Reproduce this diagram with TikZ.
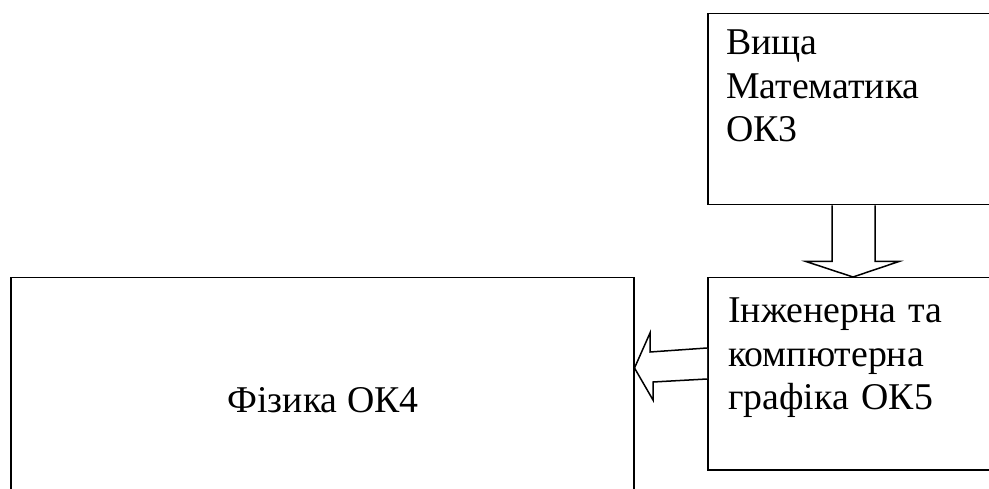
\documentclass[tikz,border=0pt]{standalone}
\usepackage{fontspec}
\setmainfont{Liberation Serif}
\usetikzlibrary{calc}

\begin{document}
\begin{tikzpicture}[x=1pt, y=-1pt,
    box/.style={draw, line width=1.5, inner sep=0, anchor=north west},
    blockarrow/.style={draw, line width=1.5, fill=white, line join=miter},
    lbl/.style={inner sep=0, font=\fontsize{37.8}{43.5}\selectfont, text width=260, align=left, anchor=base west}]

\useasboundingbox (0,0) rectangle (989,489);
\clip (0,0) rectangle (989,489);

% boxes (the right ones and the bottom one run off the page)
\node[box, minimum width=330, minimum height=191] (math) at (707,13) {};
\node[box, minimum width=330, minimum height=192] (graph) at (707,277) {};
\node[box, minimum width=623, minimum height=260] (phys) at (10,277) {};

\node[lbl] (mathtxt) at ($(math.north west)+(19,42)$) {Вища\\Математика\\ОК3};
\node[lbl] (graphtxt) at ($(graph.north west)+(21,46)$) {Інженерна та\\компютерна\\графіка ОК5};
\node[lbl, text width=, anchor=base] (phystxt) at ($(phys.north west)+(313,135)$) {Фізика ОК4};

% block arrows
\draw[blockarrow] ($(math.south west)+(125,0)$) -- ($(math.south west)+(125,56)$)
    -- ($(math.south west)+(99,56)$) -- ($(graph.north west)+(146,0)$)
    -- ($(math.south west)+(192,56)$) -- ($(math.south west)+(168,56)$)
    -- ($(math.south west)+(168,0)$);

\draw[blockarrow] ($(graph.north west)+(0,71)$) -- ($(graph.north west)+(-57,75)$)
    -- ($(graph.north west)+(-57,56)$) -- ($(phys.north east)+(0,91)$)
    -- ($(graph.north west)+(-54,123)$) -- ($(graph.north west)+(-54,105)$)
    -- ($(graph.north west)+(0,102)$);

\end{tikzpicture}
\end{document}
